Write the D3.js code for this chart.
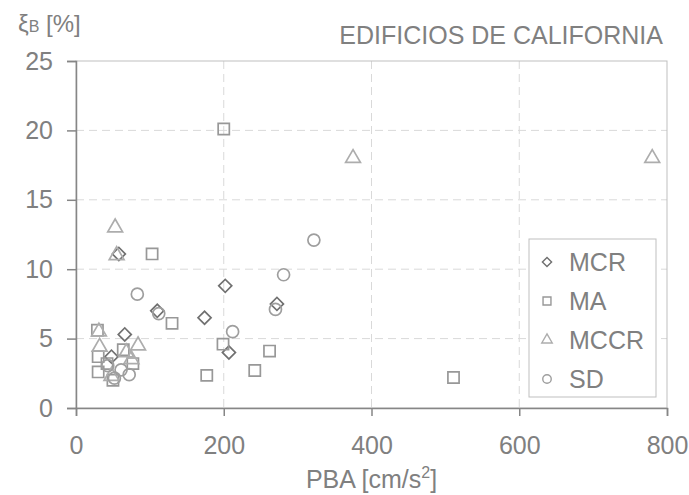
<!DOCTYPE html>
<html><head><meta charset="utf-8">
<script src="https://cdn.jsdelivr.net/npm/d3@7"></script>
<style>body{margin:0;background:#fff}svg{display:block}text{font-family:"Liberation Sans",Arial,sans-serif}</style>
</head><body>
<svg id="c" width="689" height="495"></svg>
<script>
const seriesNames = ["MCR","MA","MCCR","SD"];
const mcr = [[58,11.1],[110,7.0],[66,5.3],[48,3.7],[174,6.5],[202,8.8],[207,4.0],[272,7.5]];
const ma = [[103,11.1],[130,6.1],[29,5.6],[30,3.7],[64,4.2],[42,3.2],[77,3.2],[30,2.6],[50,2.0],[200,20.1],[199,4.6],[262,4.1],[177,2.35],[242,2.7],[511,2.2]];
const mccr = [[53,13.0],[55,11.0],[31,5.5],[32,4.4],[84,4.5],[68,4.0],[75,3.5],[48,2.3],[375,18],[780,18]];
const sd = [[83,8.2],[112,6.8],[43,3.05],[61,2.75],[72,2.4],[52,2.15],[212,5.5],[270,7.1],[281,9.6],[322,12.1]];
const xTicks = [0,200,400,600,800];
const yTicks = [0,5,10,15,20,25];

const svg = d3.select("#c");
const pL=76,pR=667,pT=61,pB=408;
const x = d3.scaleLinear().domain([0,800]).range([pL,pR]);
const y = d3.scaleLinear().domain([0,25]).range([pB,pT]);
const txt="#808080";

// grid
svg.append("g").selectAll("line").data(yTicks.filter(d=>d>0&&d<25)).join("line")
  .attr("x1",pL).attr("x2",pR).attr("y1",d=>y(d)).attr("y2",d=>y(d))
  .attr("stroke","#d9d9d9").attr("stroke-dasharray","8,5");
svg.append("g").selectAll("line").data(xTicks.filter(d=>d>0&&d<800)).join("line")
  .attr("y1",pT).attr("y2",pB).attr("x1",d=>x(d)).attr("x2",d=>x(d))
  .attr("stroke","#d9d9d9").attr("stroke-dasharray","8,5");
// frame
svg.append("rect").attr("x",pL).attr("y",pT).attr("width",pR-pL).attr("height",pB-pT)
  .attr("fill","none").attr("stroke","#bfbfbf");

const xa = svg.append("g").attr("transform",`translate(0,${pB})`)
  .call(d3.axisBottom(x).tickValues(xTicks).tickSizeOuter(0).tickSize(8).tickPadding(20));
const ya = svg.append("g").attr("transform",`translate(${pL},0)`)
  .call(d3.axisLeft(y).tickValues(yTicks).tickSizeOuter(0).tickSize(9).tickPadding(14));
[xa,ya].forEach(a=>{
  a.select(".domain").attr("stroke","#868686").attr("stroke-width",1.5);
  a.selectAll(".tick line").attr("stroke","#868686").attr("stroke-width",1.5);
  a.selectAll("text").attr("fill",txt).style("font-size","25px").style("font-family",'"Liberation Sans",Arial,sans-serif');
});

const styles = {
  MCR:{sym:d3.symbolSquare,size:85,rot:45,color:"#707070"},
  MA:{sym:d3.symbolSquare,size:125,rot:0,color:"#989898"},
  MCCR:{sym:d3.symbolTriangle,size:95,rot:0,color:"#adadad"},
  SD:{sym:d3.symbolCircle,size:113,rot:0,color:"#9e9e9e"}
};
const all = {MCR:mcr,MA:ma,MCCR:mccr,SD:sd};
seriesNames.forEach(n=>{
  const s=styles[n];
  svg.append("g").selectAll("path").data(all[n]).join("path")
    .attr("d",d3.symbol(s.sym,s.size))
    .attr("transform",d=>`translate(${x(d[0])},${y(d[1])}) rotate(${s.rot})`)
    .attr("fill","none").attr("stroke",s.color).attr("stroke-width",1.7);
});

// legend
const lg = svg.append("g");
lg.append("rect").attr("x",529).attr("y",239).attr("width",127).attr("height",158)
  .attr("fill","#fff").attr("stroke","#bfbfbf");
seriesNames.forEach((n,i)=>{
  const s=styles[n]; const cy=262+i*39;
  lg.append("path").attr("d",d3.symbol(s.sym,s.size*0.5))
    .attr("transform",`translate(547,${cy}) rotate(${s.rot})`)
    .attr("fill","none").attr("stroke",s.color).attr("stroke-width",1.4);
  lg.append("text").attr("x",569).attr("y",cy).attr("dy","0.35em").attr("fill",txt)
    .style("font-size","25px").text(n);
});

// titles
svg.append("text").attr("x",663).attr("y",44).attr("text-anchor","end").attr("fill",txt)
  .style("font-size","25px").text("EDIFICIOS DE CALIFORNIA");
const yt = svg.append("text").attr("x",18).attr("y",32).attr("fill",txt).style("font-size","24px");
yt.append("tspan").text("ξ");
yt.append("tspan").style("font-size","16px").text("B");
yt.append("tspan").text(" [%]");
const xt = svg.append("text").attr("x",(pL+pR)/2).attr("y",488).attr("text-anchor","middle").attr("fill",txt).style("font-size","25px");
xt.append("tspan").text("PBA [cm/s");
xt.append("tspan").attr("dy",-10).style("font-size","16px").text("2");
xt.append("tspan").attr("dy",10).text("]");
</script>
</body></html>
